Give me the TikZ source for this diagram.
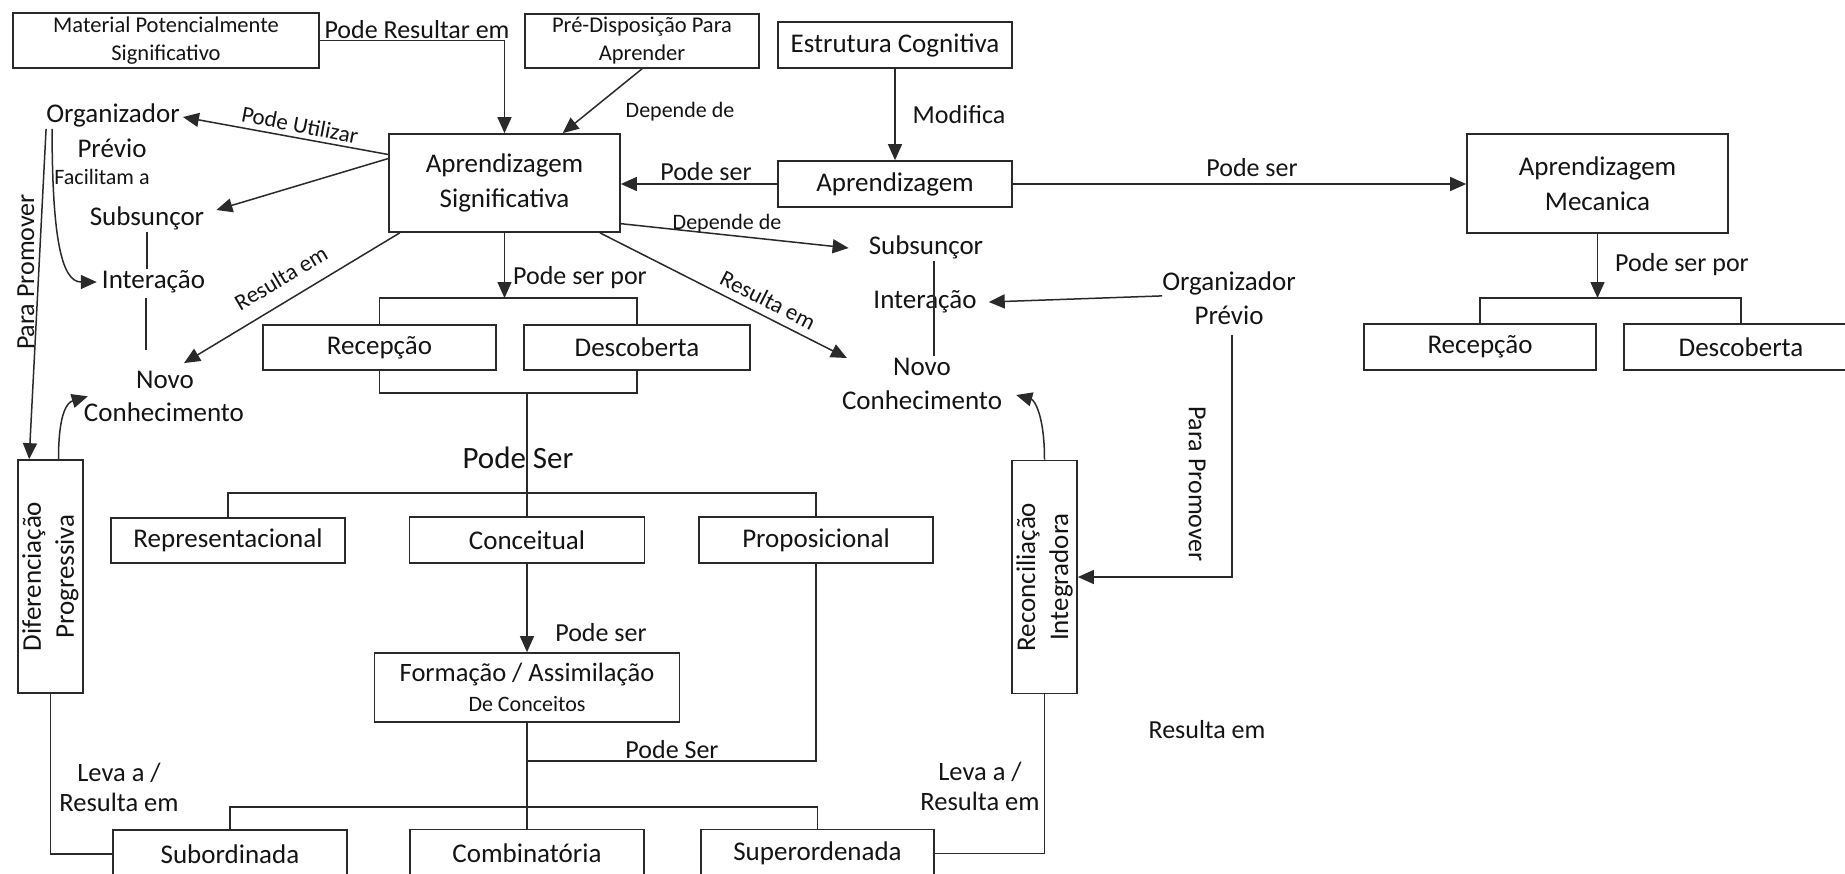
\documentclass[tikz,border=0pt]{standalone}
\usepackage{fontspec}
\setmainfont{Carlito}
\usetikzlibrary{arrows.meta,calc}
\definecolor{linec}{HTML}{2A2A2A}
\definecolor{txtc}{HTML}{141414}
\newcommand\fszA{\fontsize{26}{33}\selectfont}
\newcommand\fszK{\fontsize{27}{33}\selectfont}
\newcommand\fszB{\fontsize{22}{30}\selectfont}
\newcommand\fszC{\fontsize{22.5}{28}\selectfont}
\newcommand\fszD{\fontsize{31}{36}\selectfont}
\newcommand\fszE{\fontsize{23}{28}\selectfont}
\newcommand\fszF{\fontsize{26.5}{30}\selectfont}
\newcommand\fszG{\fontsize{27}{35}\selectfont}
\newcommand\fszH{\fontsize{22}{26}\selectfont}
\begin{document}
\begin{tikzpicture}[x=1pt,y=-1pt,
 box/.style={draw=linec,line width=1.7pt,fill=white,inner sep=0pt,align=center,font=\fszK,text=txtc},
 lbl/.style={inner sep=2pt,align=center,font=\fszA,text=txtc},
 cpt/.style={lbl,font=\fszK},
 slbl/.style={lbl,font=\fszB},
 tlbl/.style={lbl,font=\fszH},
 rlbl/.style={lbl,font=\fszE},
 conn/.style={draw=linec,line width=1.5pt},
 arr/.style={conn,-{Triangle[length=16pt,width=14pt]}}]
\useasboundingbox (0,0) rectangle (1845,873);
\fill[white] (0,0) rectangle (1845,873);

% ---------- boxes ----------
\node[box,font=\fszC,minimum width=306pt,minimum height=55pt] (mat) at (166,40.5) {Material Potencialmente\\Significativo};
\node[box,font=\fszC,minimum width=234pt,minimum height=54pt] (pre) at (642,41) {Pré-Disposição Para\\Aprender};
\node[box,minimum width=234pt,minimum height=46pt] (est) at (895,45) {Estrutura Cognitiva};
\node[box,font=\fszG,minimum width=231pt,minimum height=98pt] (as) at (504.5,183) {Aprendizagem\\Significativa};
\node[box,minimum width=234pt,minimum height=46pt] (apr) at (895,184) {Aprendizagem};
\node[box,font=\fszG,minimum width=261pt,minimum height=99pt] (am) at (1597.5,183.5) {Aprendizagem\\Mecanica};
\node[box,minimum width=232pt,minimum height=46pt] (recR) at (1480,347) {Recepção};
\node[box,minimum width=234pt,minimum height=46pt] (desR) at (1741,347) {Descoberta};
\node[box,minimum width=233pt,minimum height=45pt] (rec) at (379.5,347.5) {Recepção};
\node[box,minimum width=226pt,minimum height=45pt] (des) at (637,347.5) {Descoberta};
\node[box,minimum width=234pt,minimum height=45pt] (rep) at (228,540.5) {Representacional};
\node[box,minimum width=235pt,minimum height=46pt] (con) at (527,540) {Conceitual};
\node[box,minimum width=234pt,minimum height=46pt] (pro) at (816,540) {Proposicional};
\node[box,font=\fszF,minimum width=305pt,minimum height=69pt] (form) at (527,687.5) {Formação / Assimilação\\{\fszB De Conceitos}};
\node[box,minimum width=234pt,minimum height=48pt] (sub) at (230,854) {Subordinada};
\node[box,minimum width=234pt,minimum height=48pt] (comb) at (527,853.5) {Combinatória};
\node[box,minimum width=233pt,minimum height=48pt] (sup) at (817.5,853.5) {Superordenada};
\node[box,minimum width=65pt,minimum height=233pt] (dif) at (50.5,576.5) {};
\node[cpt,rotate=90,inner sep=0pt] (difT) at (dif.center) {Diferenciação\\Progressiva};
\node[box,minimum width=65pt,minimum height=233pt] (recon) at (1044.5,577) {};
\node[cpt,rotate=90,inner sep=0pt] (reconT) at (recon.center) {Reconciliação\\Integradora};

% ---------- free text concepts ----------
\node[cpt] (orgL1) at (113,115) {Organizador};
\node[cpt] (orgL2) at (112,148) {Prévio};
\node[tlbl] (facL) at (102,177) {Facilitam a};
\node[cpt] (subL) at (147,218) {Subsunçor};
\node[cpt] (intL) at (153.5,282) {Interação};
\node[cpt] (novL1) at (165,380) {Novo};
\node[cpt] (novL2) at (164,412) {Conhecimento};
\node[cpt] (subR) at (926,247) {Subsunçor};
\node[cpt] (intR) at (925,302) {Interação};
\node[cpt] (novR1) at (922,367) {Novo};
\node[cpt] (novR2) at (922,400) {Conhecimento};
\node[cpt] (orgR1) at (1229,283) {Organizador};
\node[cpt] (orgR2) at (1229,315) {Prévio};

% ---------- labels ----------
\node[lbl] (lPR) at (417,30) {Pode Resultar em};
\node[slbl] (lDep1) at (680,112) {Depende de};
\node[lbl] (lMod) at (959,115) {Modifica};
\node[lbl] (lPs1) at (706,172) {Pode ser};
\node[slbl] (lDep2) at (727,224) {Depende de};
\node[lbl] (lPs2) at (1252,168) {Pode ser};
\node[lbl] (lPsp2) at (1682,265) {Pode ser por};
\node[lbl] (lPsp1) at (580,278) {Pode ser por};
\node[rlbl,rotate=-11] (lPU) at (300,125) {Pode Utilizar};
\node[rlbl,rotate=30.5] (lRe1) at (281,278) {Resulta em};
\node[rlbl,rotate=-27] (lRe2) at (768,300) {Resulta em};
\node[lbl,rotate=90] (lPP1) at (26,272) {Para Promover};
\node[lbl,rotate=-90] (lPP2) at (1197,484) {Para Promover};
\node[lbl,font=\fszD] (lPSb) at (518,458) {Pode Ser};
\node[lbl] (lPs3) at (601,633) {Pode ser};
\node[lbl] (lPS2) at (672,750) {Pode Ser};
\node[lbl,font=\fszF] (lLev1) at (119,787) {Leva a /\\Resulta em};
\node[lbl,font=\fszF] (lLev2) at (980,786.5) {Leva a /\\Resulta em};
\node[lbl] (lRe3) at (1207,730) {Resulta em};

% ---------- connectors ----------
\draw[arr] (mat.east) -| (as.north);
\draw[arr] (pre.south) -- ($(as.north west)!0.75!(as.north east)$);
\draw[arr] (est.south) -- (apr.north);
\draw[arr] (apr.west) -- (as.east |- apr.west);
\draw[arr] (apr.east) -- (am.west |- apr.east);

\draw[arr] ($(as.north west)!0.214!(as.south west)$) -- ($(orgL1.east)+(1,2)$);
\draw[arr] ($(as.north west)!0.255!(as.south west)$) -- ($(subL.east)+(10,-8)$);
\draw[arr] ($(as.south west)!0.05!(as.south east)$) -- ($(novL1.north east)+(-12,-6)$);
\draw[arr] ($(orgL1.south west)+(8,0)$) .. controls +(0,110) and +(-35,0) .. ($(intL.west)+(-3,0)$);
\draw[arr] ($(orgL1.south west)+(2,0)$) -- ($(dif.north west)!0.18!(dif.north east)$);
\draw[arr] ($(dif.north west)!0.62!(dif.north east)$) .. controls +(0,-48) and +(-20,6) .. ($(novL2.north west)+(6,-4)$);

\draw[conn] (subL.south) -- (subL.south |- intL.north);
\draw[conn] ($(intL.south -| subL.south)+(-1,3)$) -- ($(novL1.north -| subL.south)+(-1,-19)$);

\draw[arr] ($(as.north east)!0.908!(as.south east)$) -- ($(subR.west)+(-18,1)$);
\draw[arr] ($(as.south west)!0.91!(as.south east)$) -- ($(novR1.west)+(-44,-9)$);
\draw[conn] ($(subR.south)+(8,0)$) coordinate (vR) -- (vR |- novR1.north);
\draw[arr] ($(orgR1.south west)+(2,-1)$) -- ($(intR.east)+(10,0)$);
\draw[arr] ($(orgR2.south)+(3,8)$) |- (recon.east);
\draw[arr] (recon.north) .. controls +(0,-45) and +(18,5) .. ($(novR2.east)+(12,-5)$);

\coordinate (amj) at (1597.5,298);
\draw[arr] (am.south) -- (amj);
\draw[conn] (recR.north) |- (amj) -| (desR.north);

\coordinate (asj) at (504.5,298);
\draw[arr] (as.south) -- (asj);
\draw[conn] (rec.north) |- (asj) -| (des.north);
\coordinate (rdj) at (527,393);
\draw[conn] (rec.south) |- (rdj) -| (des.south);
\draw[conn] (rdj) -- (con.north);
\coordinate (tj) at (527,493);
\draw[conn] (rep.north) |- (tj) -| (pro.north);
\draw[arr] (con.south) -- (form.north);
\draw[conn] (form.south) -- (comb.north);
\coordinate (fj) at (527,761);
\draw[conn] (pro.south) |- (fj);
\coordinate (bj) at (527,807);
\draw[conn] (sub.north) |- (bj) -| (sup.north);
\draw[conn] (dif.south) |- (sub.west);
\draw[conn] (recon.south) |- (sup.east);
\end{tikzpicture}
\end{document}
